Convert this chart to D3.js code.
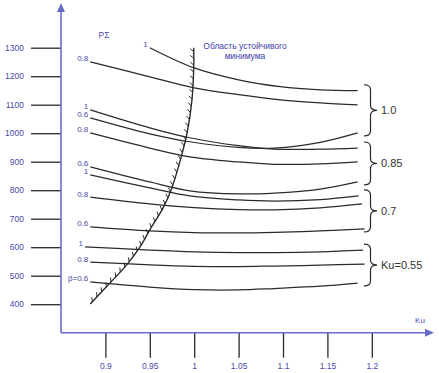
<!DOCTYPE html>
<html>
<head>
<meta charset="utf-8">
<script src="https://d3js.org/d3.v7.min.js"></script>
<style>
body { margin: 0; background: #fff; }
svg { display: block; font-family: "Liberation Sans", Arial, sans-serif; }
</style>
</head>
<body>
<svg id="chart" width="439" height="373"></svg>
<script>
// Ku / P-sigma chart with the "stable minimum" boundary

var xTicks = [0.9, 0.95, 1, 1.05, 1.1, 1.15, 1.2];
var yTicks = [400, 500, 600, 700, 800, 900, 1000, 1100, 1200, 1300];

// Ku = 1.0 group
var curveA = [{ku:0.95,p:1300},{ku:1.0,p:1229},{ku:1.05,p:1187},{ku:1.097,p:1163},{ku:1.142,p:1152},{ku:1.184,p:1149}];
var curveB = [{ku:0.883,p:1250},{ku:0.95,p:1198},{ku:1.0,p:1159},{ku:1.05,p:1135},{ku:1.097,p:1117},{ku:1.142,p:1106},{ku:1.184,p:1099}];
var curveD = [{ku:0.883,p:1054},{ku:0.95,p:998},{ku:0.995,p:970},{ku:1.05,p:950},{ku:1.09,p:948},{ku:1.142,p:968},{ku:1.184,p:1001}];
// Ku = 0.85 group
var curveC = [{ku:0.883,p:1082},{ku:0.95,p:1019},{ku:0.995,p:984},{ku:1.05,p:956},{ku:1.09,p:944},{ku:1.142,p:944},{ku:1.184,p:948}];
var curveE = [{ku:0.883,p:1001},{ku:0.95,p:948},{ku:0.995,p:917},{ku:1.05,p:899},{ku:1.09,p:891},{ku:1.142,p:892},{ku:1.184,p:899}];
var curveF = [{ku:0.883,p:882},{ku:0.95,p:829},{ku:0.995,p:798},{ku:1.05,p:787},{ku:1.09,p:790},{ku:1.142,p:804},{ku:1.184,p:829}];
// Ku = 0.7 group
var curveG = [{ku:0.883,p:854},{ku:0.95,p:808},{ku:0.995,p:780},{ku:1.05,p:766},{ku:1.09,p:762},{ku:1.142,p:767},{ku:1.185,p:780}];
var curveH = [{ku:0.883,p:776},{ku:0.95,p:752},{ku:1.0,p:739},{ku:1.05,p:732},{ku:1.09,p:731},{ku:1.142,p:738},{ku:1.189,p:752}];
var curveI = [{ku:0.883,p:671},{ku:0.95,p:657},{ku:1.0,p:651},{ku:1.05,p:650},{ku:1.09,p:652},{ku:1.142,p:657},{ku:1.192,p:664}];
// Ku = 0.55 group
var curveJ = [{ku:0.877,p:601},{ku:0.95,p:590},{ku:1.0,p:584},{ku:1.05,p:581},{ku:1.09,p:581},{ku:1.142,p:584},{ku:1.19,p:590}];
var curveK = [{ku:0.883,p:548},{ku:0.95,p:538},{ku:1.0,p:533},{ku:1.05,p:532},{ku:1.09,p:534},{ku:1.142,p:537},{ku:1.192,p:541}];
var curveL = [{ku:0.883,p:478},{ku:0.95,p:460},{ku:1.0,p:451},{ku:1.05,p:450},{ku:1.09,p:455},{ku:1.142,p:463},{ku:1.184,p:474}];

var curveList = [curveA, curveB, curveD, curveC, curveE, curveF, curveG, curveH, curveI, curveJ, curveK, curveL];
var curveLabels = ["1", "0.8", "0.6", "1", "0.8", "0.6", "1", "0.8", "0.6", "1", "0.8", "\u03b2=0.6"];

var groupNames = ["1.0", "0.85", "0.7", "Ku=0.55"];
var groupCurves = [[curveA, curveB, curveD], [curveC, curveE, curveF], [curveG, curveH, curveI], [curveJ, curveK, curveL]];

// boundary of the stable minimum region
var boundary = [{ku:0.883,p:401},{ku:0.905,p:474},{ku:0.924,p:538},{ku:0.939,p:601},{ku:0.95,p:661},{ku:0.965,p:738},
                {ku:0.974,p:801},{ku:0.986,p:924},{ku:0.992,p:1001},{ku:0.9975,p:1117},{ku:0.9995,p:1233},{ku:0.9995,p:1300}];

var axisColor = "#6a6ac8";
var blueText = "#4a4aa6";
var inkColor = "#2a2a2a";

var svg = d3.select("#chart");

var xScale = d3.scaleLinear().domain([0.85, 1.2]).range([61, 371.8]);
var yScale = d3.scaleLinear().domain([300, 1300]).range([332.7, 47.7]);

// y axis ticks + labels
svg.append("g")
    .attr("transform", "translate(61,0)")
    .call(d3.axisLeft(yScale).tickValues(yTicks).tickSize(30).tickPadding(7).tickFormat(d3.format("d")))
    .attr("font-family", null)
    .attr("font-size", null)
    .call(function(g) { g.select(".domain").remove(); })
    .call(function(g) { g.selectAll("line").attr("stroke", inkColor).attr("stroke-width", 1.3); })
    .call(function(g) { g.selectAll("text").attr("fill", blueText).style("font-size", "8.5px"); });

// x axis ticks + labels
svg.append("g")
    .attr("transform", "translate(0,332.7)")
    .call(d3.axisBottom(xScale).tickValues(xTicks).tickSize(25).tickPadding(5).tickFormat(function(d) { return String(d); }))
    .attr("font-family", null)
    .attr("font-size", null)
    .call(function(g) { g.select(".domain").remove(); })
    .call(function(g) { g.selectAll("line").attr("stroke", inkColor).attr("stroke-width", 1.3); })
    .call(function(g) { g.selectAll("text").attr("fill", blueText).style("font-size", "8.5px"); });

// axis lines with arrows
svg.append("line").attr("x1", 61).attr("y1", 332.7).attr("x2", 61).attr("y2", 10)
    .attr("stroke", axisColor).attr("stroke-width", 1.6);
svg.append("path").attr("d", "M61,3 L57,12 L65,12 Z").attr("fill", axisColor);
svg.append("line").attr("x1", 61).attr("y1", 332.7).attr("x2", 427).attr("y2", 332.7)
    .attr("stroke", axisColor).attr("stroke-width", 1.6);
svg.append("path").attr("d", "M434,332.7 L425,328.7 L425,336.7 Z").attr("fill", axisColor);

svg.append("text").attr("x", 420).attr("y", 323).attr("text-anchor", "middle")
    .attr("fill", blueText).style("font-size", "8px").text("Ku");

// family curves
var line = d3.line()
    .x(function(d) { return xScale(d.ku); })
    .y(function(d) { return yScale(d.p); })
    .curve(d3.curveCatmullRom.alpha(0.5));

svg.selectAll(".fam")
    .data(curveList)
    .enter().append("path")
    .attr("class", "fam")
    .attr("d", line)
    .attr("fill", "none")
    .attr("stroke", inkColor)
    .attr("stroke-width", 1.25);

svg.selectAll(".famlabel")
    .data(curveList)
    .enter().append("text")
    .attr("class", "famlabel")
    .attr("x", function(d) { return xScale(d[0].ku) - 2; })
    .attr("y", function(d) { return yScale(d[0].p) - 0.5; })
    .attr("text-anchor", "end")
    .attr("fill", blueText)
    .style("font-size", "8px")
    .text(function(d, i) { return curveLabels[i]; });

svg.append("text").attr("x", 104).attr("y", 38).attr("text-anchor", "middle")
    .attr("fill", blueText).style("font-size", "8.5px").text("P\u03a3");

// boundary with hatching
var bline = d3.line()
    .x(function(d) { return xScale(d.ku); })
    .y(function(d) { return yScale(d.p); })
    .curve(d3.curveCatmullRom);

var bpath = svg.append("path")
    .datum(boundary)
    .attr("d", bline)
    .attr("fill", "none")
    .attr("stroke", inkColor)
    .attr("stroke-width", 1.4);

var node = bpath.node();
var total = node.getTotalLength();
var hatches = [];
for (var s = 3; s < total - 1; s += 6.8) {
    var p0 = node.getPointAtLength(s);
    var p1 = node.getPointAtLength(Math.min(s + 0.5, total));
    var tx = p1.x - p0.x, ty = p1.y - p0.y;
    var tl = Math.sqrt(tx * tx + ty * ty) || 1;
    tx /= tl; ty /= tl;
    var nx = ty, ny = -tx;
    var a = 40 * Math.PI / 180;
    var dx = nx * Math.cos(a) + tx * Math.sin(a);
    var dy = ny * Math.cos(a) + ty * Math.sin(a);
    hatches.push({ x1: p0.x, y1: p0.y, x2: p0.x + dx * 4.5, y2: p0.y + dy * 4.5 });
}
svg.selectAll(".hatch")
    .data(hatches)
    .enter().append("line")
    .attr("class", "hatch")
    .attr("x1", function(d) { return d.x1; })
    .attr("y1", function(d) { return d.y1; })
    .attr("x2", function(d) { return d.x2; })
    .attr("y2", function(d) { return d.y2; })
    .attr("stroke", inkColor)
    .attr("stroke-width", 1);

// region title
svg.append("text").attr("x", 245).attr("y", 48.5).attr("text-anchor", "middle")
    .attr("fill", "#3c3ca8").style("font-size", "8.5px").text("Область устойчивого");
svg.append("text").attr("x", 245).attr("y", 58.5).attr("text-anchor", "middle")
    .attr("fill", "#3c3ca8").style("font-size", "8.5px").text("минимума");

// braces for the Ku groups
var bx0 = 364, bx1 = 370.5, bx2 = 377, br = 5;
groupCurves.forEach(function(grp, i) {
    var ends = grp.map(function(c) { return yScale(c[c.length - 1].p); });
    var y0 = d3.min(ends) - 6;
    var y1 = d3.max(ends) + 3;
    var ym = (y0 + y1) / 2;
    var d = "M" + bx0 + "," + y0 +
        " Q" + bx1 + "," + y0 + " " + bx1 + "," + (y0 + br) +
        " L" + bx1 + "," + (ym - br) +
        " Q" + bx1 + "," + ym + " " + bx2 + "," + ym +
        " Q" + bx1 + "," + ym + " " + bx1 + "," + (ym + br) +
        " L" + bx1 + "," + (y1 - br) +
        " Q" + bx1 + "," + y1 + " " + bx0 + "," + y1;
    svg.append("path").attr("d", d).attr("fill", "none")
        .attr("stroke", inkColor).attr("stroke-width", 1.2);
    svg.append("text").attr("x", 381).attr("y", ym + 4)
        .attr("fill", "#333").style("font-size", "11px").text(groupNames[i]);
});
</script>
</body>
</html>
